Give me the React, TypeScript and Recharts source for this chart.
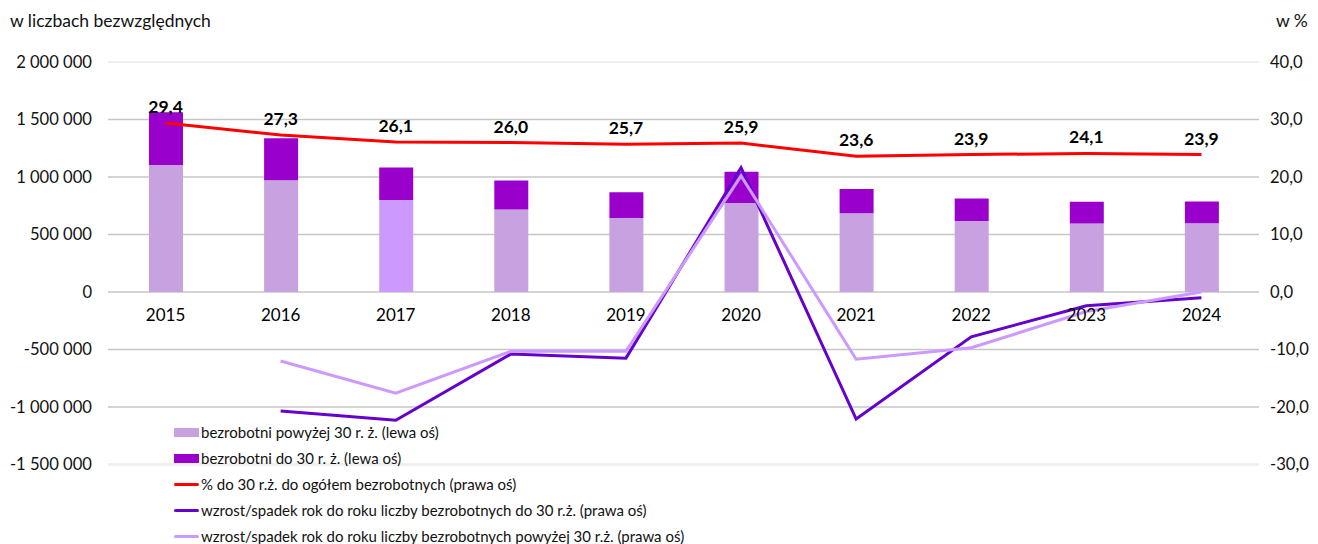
import React from 'react';
import {
  ComposedChart, Bar, Line, XAxis, YAxis, CartesianGrid, Legend, LabelList, Cell, ReferenceLine,
} from 'recharts';

const years = ['2015', '2016', '2017', '2018', '2019', '2020', '2021', '2022', '2023', '2024'];
const above30 = [1104000, 971000, 800000, 717000, 644000, 775000, 684000, 618000, 596000, 598000];
const under30 = [459000, 365000, 282000, 252000, 223000, 271000, 211000, 194000, 189000, 188000];
const shareUnder30 = [29.4, 27.3, 26.1, 26.0, 25.7, 25.9, 23.6, 23.9, 24.1, 23.9];
const changeUnder30: (number | null)[] = [null, -20.7, -22.3, -10.8, -11.5, 21.6, -22.1, -7.8, -2.4, -1.0];
const changeAbove30: (number | null)[] = [null, -12.0, -17.6, -10.3, -10.3, 20.2, -11.7, -9.7, -3.4, 0.0];

const leftTicks = [-1500000, -1000000, -500000, 0, 500000, 1000000, 1500000, 2000000];
const rightTicks = [-30, -20, -10, 0, 10, 20, 30, 40];

const legendItems = [
  { label: 'bezrobotni powyżej 30 r. ż. (lewa oś)', color: '#C8A2E0', kind: 'rect' },
  { label: 'bezrobotni do 30 r. ż. (lewa oś)', color: '#9900CC', kind: 'rect' },
  { label: '% do 30 r.ż. do ogółem bezrobotnych (prawa oś)', color: '#FF0000', kind: 'line' },
  { label: 'wzrost/spadek rok do roku liczby bezrobotnych do 30 r.ż. (prawa oś)', color: '#6600CC', kind: 'line' },
  { label: 'wzrost/spadek rok do roku liczby bezrobotnych powyżej 30 r.ż. (prawa oś)', color: '#CC99FF', kind: 'line' },
];

const data = years.map((y, i) => ({
  year: y,
  above30: above30[i],
  under30: under30[i],
  share: shareUnder30[i],
  chgU: changeUnder30[i],
  chgA: changeAbove30[i],
}));

const W = 1318;
const H = 544;
const M_TOP = 62;
const X_AXIS_H = 1;
const M_BOTTOM = 79.5 - X_AXIS_H;
const LEFT_MIN = -1500000;
const LEFT_MAX = 2000000;
const PLOT_H = H - M_TOP - M_BOTTOM - X_AXIS_H;
const ZERO_Y = M_TOP + PLOT_H * (LEFT_MAX / (LEFT_MAX - LEFT_MIN));

const FONT = 'Lato, "Open Sans", sans-serif';

const fmtLeft = (n: number) => {
  const s = String(Math.abs(n)).replace(/\B(?=(\d{3})+(?!\d))/g, '\u00A0');
  return (n < 0 ? '-' : '') + s;
};
const fmtRight = (n: number) => n.toFixed(1).replace('.', ',');

const XTick = (props: any) => {
  const { x, payload } = props;
  return (
    <text x={x} y={ZERO_Y + 29} textAnchor="middle" fontSize={17} fill="#000" fontFamily={FONT}>
      {payload && payload.value}
    </text>
  );
};

const LegendContent = () => (
  <div style={{ fontFamily: FONT, fontSize: 15, color: '#111' }}>
    {legendItems.map((it) => (
      <div key={it.label} style={{ display: 'flex', alignItems: 'center', height: 26, whiteSpace: 'nowrap' }}>
        <div style={{ width: 25, height: 26, display: 'flex', alignItems: 'center', marginRight: 2 }}>
          {it.kind === 'rect' ? (
            <div style={{ width: 25, height: 9, background: it.color }} />
          ) : (
            <div style={{ width: 25, height: 3, background: it.color, borderRadius: 2 }} />
          )}
        </div>
        <span>{it.label}</span>
      </div>
    ))}
  </div>
);

export default function App() {
  return (
    <div style={{ position: 'absolute', left: 0, top: 0, width: W, height: H, background: '#fff', fontFamily: FONT }}>
      <div style={{ position: 'absolute', left: 10, top: 10, fontSize: 17.5, color: '#111' }}>w liczbach bezwzględnych</div>
      <div style={{ position: 'absolute', left: 1276, top: 10, fontSize: 17.5, color: '#111' }}>w %</div>
      <ComposedChart
        width={W}
        height={H}
        data={data}
        margin={{ top: M_TOP, right: 8, bottom: M_BOTTOM, left: 8 }}
        barCategoryGap={0}
      >
        <CartesianGrid yAxisId="left" horizontal vertical={false} stroke="#C6C6C6" strokeWidth={1.3} />
        <ReferenceLine yAxisId="left" y={LEFT_MAX} stroke="#EFEFEF" strokeWidth={2} />
        <ReferenceLine yAxisId="left" y={LEFT_MIN} stroke="#EFEFEF" strokeWidth={2} />
        <XAxis
          dataKey="year"
          axisLine={false}
          tickLine={false}
          height={X_AXIS_H}
          tick={(p: any) => <XTick {...p} />}
          interval={0}
        />
        <YAxis
          yAxisId="left"
          orientation="left"
          width={100}
          domain={[LEFT_MIN, LEFT_MAX]}
          ticks={leftTicks}
          tickFormatter={fmtLeft}
          axisLine={false}
          tickLine={false}
          tickSize={0}
          tickMargin={16}
          tick={{ fontSize: 16.6, fill: '#111', fontFamily: FONT }}
          allowDataOverflow
        />
        <YAxis
          yAxisId="right"
          orientation="right"
          width={51}
          domain={[-30, 40]}
          ticks={rightTicks}
          tickFormatter={fmtRight}
          axisLine={false}
          tickLine={false}
          tickSize={0}
          tickMargin={11}
          tick={{ fontSize: 16.6, fill: '#111', fontFamily: FONT, textAnchor: 'start' }}
          allowDataOverflow
        />
        <Bar yAxisId="left" dataKey="above30" stackId="a" barSize={34} fill="#C8A2E0" isAnimationActive={false}>
          {data.map((d, i) => (
            <Cell key={d.year} fill={i === 2 ? '#CC99FF' : '#C8A2E0'} />
          ))}
        </Bar>
        <Bar yAxisId="left" dataKey="under30" stackId="a" barSize={34} fill="#9900CC" isAnimationActive={false} />
        <Line
          yAxisId="right"
          dataKey="share"
          stroke="#FF0000"
          strokeWidth={3}
          dot={false}
          activeDot={false}
          isAnimationActive={false}
        >
          <LabelList
            dataKey="share"
            position="top"
            offset={10}
            formatter={(v: any) => fmtRight(Number(v))}
            style={{ fontSize: 17.5, fontWeight: 700, fill: '#000', fontFamily: FONT }}
          />
        </Line>
        <Line
          yAxisId="right"
          dataKey="chgU"
          stroke="#6600CC"
          strokeWidth={3}
          dot={false}
          activeDot={false}
          connectNulls={false}
          isAnimationActive={false}
        />
        <Line
          yAxisId="right"
          dataKey="chgA"
          stroke="#CC99FF"
          strokeWidth={3}
          dot={false}
          activeDot={false}
          connectNulls={false}
          isAnimationActive={false}
        />
        <Legend
          layout="vertical"
          align="center"
          verticalAlign="middle"
          content={<LegendContent />}
          wrapperStyle={{ left: 174, top: 419, width: 600, height: 130 }}
        />
      </ComposedChart>
    </div>
  );
}
